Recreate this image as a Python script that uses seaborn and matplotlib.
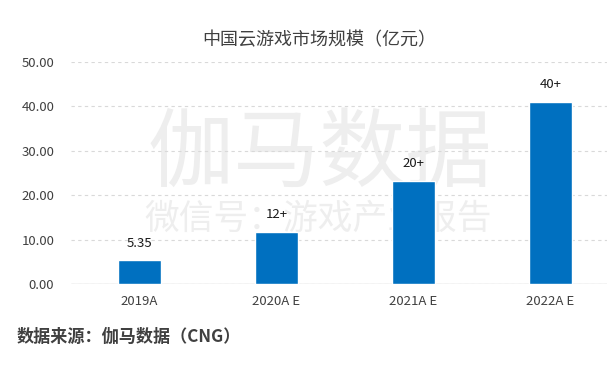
import matplotlib
matplotlib.use("Agg")
import matplotlib.pyplot as plt
import seaborn as sns
import pandas as pd

categories = ["2019A", "2020A E", "2021A E", "2022A E"]
values = [5.35, 11.7, 23.2, 41.0]
value_labels = ["5.35", "12+", "20+", "40+"]
yticks = [0, 10, 20, 30, 40, 50]
title = "中国云游戏市场规模（亿元）"
source = "数据来源：伽马数据（CNG）"
wm_big = "伽马数据"
wm_small = "微信号：游戏产业报告"

sns.set_theme(style="white")
plt.rcParams['font.family'] = ['Noto Sans CJK SC', 'DejaVu Sans']

df = pd.DataFrame({"cat": categories, "val": values})

fig = plt.figure(figsize=(6.07, 3.73), dpi=100)
ax = fig.add_axes([71/607, 1-284/373, 1-71/607, (284-62)/373])

# watermark (behind gridlines and bars)
ax.text(320/607, 1-155/373, wm_big, fontsize=62, color="#eeeeee", ha="center", va="center",
        zorder=0.2, transform=fig.transFigure, clip_on=False)
ax.text(318/607, 1-219/373, wm_small, fontsize=25, color="#eeeeee", ha="center", va="center",
        zorder=0.2, transform=fig.transFigure, clip_on=False)

sns.barplot(data=df, x="cat", y="val", color="#0070C0", width=0.31, ax=ax, zorder=3, saturation=1)

for i, (v, lab) in enumerate(zip(values, value_labels)):
    ax.text(i, v + 2.4, lab, ha="center", va="bottom", fontsize=9.5, color="#1a1a1a", zorder=5)

ax.set_ylim(0, 50)
ax.set_xlim(-0.5, (607-139.5)/137)
ax.set_yticks(yticks)
ax.set_yticklabels([f"{t:.2f}" for t in yticks], fontsize=9.5, color="#404040")
ax.set_xticklabels(categories, fontsize=9.5, color="#404040")
ax.tick_params(axis="y", pad=12, length=0)
ax.tick_params(axis="x", pad=8, length=0)
ax.set_xlabel("")
ax.set_ylabel("")
for s in ax.spines.values():
    s.set_visible(False)
ax.yaxis.grid(True, linestyle=(0, (3, 3)), color="#d9d9d9", linewidth=0.8)
ax.set_axisbelow(True)
ax.axhline(0, color="#d0d0d0", linewidth=1, zorder=2)

fig.text(319/607, 1-40/373, title, fontsize=13, color="#404040", ha="center", va="center")
fig.text(17/607, 1-337/373, source, fontsize=12.3, color="#404040", ha="left", va="center", fontweight="bold")

fig.savefig("out.png", dpi=100)
